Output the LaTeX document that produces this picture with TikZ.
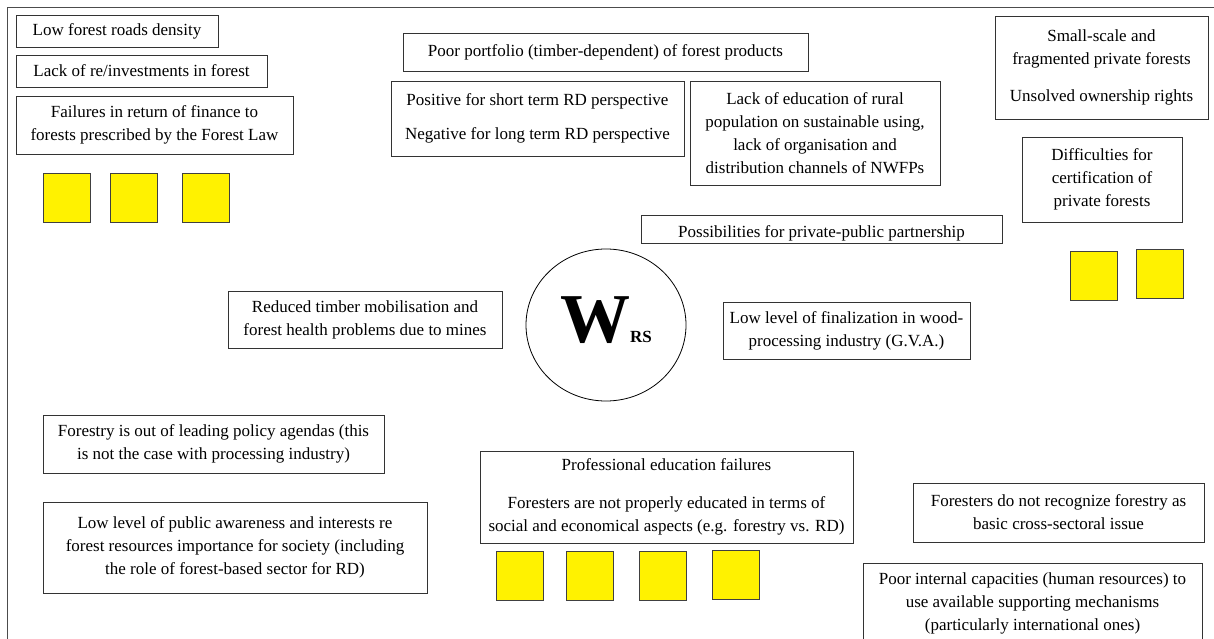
\documentclass[tikz,border=0pt]{standalone}
\usepackage{fontspec}
\setmainfont{Liberation Serif}
\usetikzlibrary{shapes.geometric}
\begin{document}
\begin{tikzpicture}[x=1pt,y=-1pt,
  box/.style={draw=black!80, line width=0.8pt, align=center, inner sep=0pt,
              font=\fontsize{17}{23}\selectfont},
  sq/.style={draw=black!75, fill=yellow, line width=0.8pt, inner sep=0pt,
             minimum width=47pt, minimum height=49pt},
  hub/.style={draw=black, line width=0.8pt, ellipse, inner sep=0pt,
              minimum width=160pt, minimum height=152pt}]
\useasboundingbox (0,0) rectangle (1214,639);
\fill[white] (0,0) rectangle (1214,639);
% outer frame
\coordinate (fbl) at (7,639);
\coordinate (ftl) at (7,7);
\coordinate (ftr) at (1214,7);
\draw[black!70, line width=0.8pt] (fbl) -- (ftl) -- (ftr);

% top left group
\node[box, minimum width=202pt, minimum height=32pt] (roads) at (117,31) {Low forest roads density};
\node[box, minimum width=251pt, minimum height=32pt] (invest) at (141.5,71) {Lack of re/investments in forest};
\node[box, minimum width=277pt, minimum height=58pt] (finance) at (154.5,125) {Failures in return of finance to\\forests prescribed by the Forest Law};
\node[sq] (sqA) at (66.5,197.5) {};
\node[sq] (sqB) at (133.5,197.5) {};
\node[sq] (sqC) at (205.5,197.5) {};

% top centre group
\node[box, minimum width=405pt, minimum height=38pt] (portfolio) at (605.5,52) {Poor portfolio (timber-dependent) of forest products};
\node[box, minimum width=293pt, minimum height=75pt] (perspective) at (537.5,118.5) {Positive for short term RD perspective\\[11pt]Negative for long term RD perspective};
\node[box, minimum width=250pt, minimum height=104pt] (rural) at (815,133) {Lack of education of rural\\population on sustainable using,\\lack of organisation and\\distribution channels of NWFPs};
\node[box, minimum width=361pt, minimum height=28pt] (ppp) at (821.5,229) {};
\node[font=\fontsize{17}{23}\selectfont, anchor=base, inner sep=0pt] (ppptext) at (821.5,237) {Possibilities for private-public partnership};

% top right group
\node[box, minimum width=213pt, minimum height=103pt] (private) at (1101.5,67.5) {Small-scale and\\fragmented private forests\\[14pt]Unsolved ownership rights};
\node[box, minimum width=160pt, minimum height=85pt] (cert) at (1102,179.5) {Difficulties for\\certification of\\private forests};
\node[sq] (sqD) at (1093.5,275.5) {};
\node[sq] (sqE) at (1160,274) {};

% centre
\node[hub] (wrs) at (606,325) {};
\node[font=\fontsize{70}{70}\selectfont\bfseries, anchor=base, inner sep=0pt] (wl) at (595,342) {W};
\node[font=\fontsize{17}{17}\selectfont\bfseries, anchor=base west, inner sep=0pt] (rsl) at (630,342) {RS};
\node[box, minimum width=274pt, minimum height=57pt] (mines) at (365,319.5) {Reduced timber mobilisation and\\forest health problems due to mines};
\node[box, minimum width=247pt, minimum height=57pt] (gva) at (846.5,330.5) {Low level of finalization in wood-\\processing industry (G.V.A.)};

% bottom left group
\node[box, minimum width=341pt, minimum height=58pt] (agenda) at (213.5,444) {Forestry is out of leading policy agendas (this\\is not the case with processing industry)};
\node[box, minimum width=384pt, minimum height=91pt] (public) at (235,547.5) {Low level of public awareness and interests re\\forest resources importance for society (including\\the role of forest-based sector for RD)};

% bottom centre group
\node[box, minimum width=373pt, minimum height=92pt] (education) at (666.5,497) {Professional education failures\\[15pt]Foresters are not properly educated in terms of\\social and economical aspects (e.g. forestry vs. RD)};
\node[sq] (sqF) at (519.5,576) {};
\node[sq] (sqG) at (589.5,576) {};
\node[sq] (sqH) at (663,576) {};
\node[sq] (sqI) at (735.5,575) {};

% bottom right group
\node[box, minimum width=291pt, minimum height=59pt] (crosssect) at (1058.5,512.5) {Foresters do not recognize forestry as\\basic cross-sectoral issue};
\node[box, minimum width=339pt, minimum height=81pt] (capacity) at (1032.5,603.5) {Poor internal capacities (human resources) to\\use available supporting mechanisms\\(particularly international ones)};
\end{tikzpicture}
\end{document}
